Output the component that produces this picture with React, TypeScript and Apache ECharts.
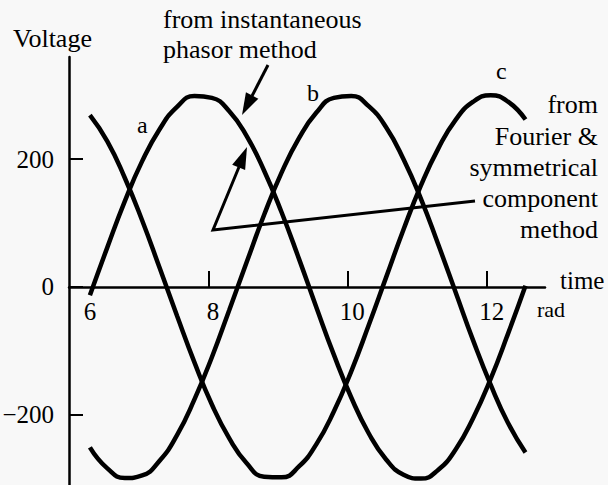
import React, { useEffect, useRef } from "react";
import * as echarts from "echarts";

// time samples (rad)
const tValues = [6.30, 6.55, 6.80, 7.05, 7.30, 7.55, 7.80, 8.05, 8.30, 8.55, 8.80, 9.05, 9.30, 9.55, 9.80, 10.05, 10.30, 10.55, 10.80, 11.05, 11.30, 11.55, 11.80, 12.05, 12.30, 12.55];
// voltages
const phaseA = [-13, 62, 134, 197, 247, 282, 299, 296, 275, 236, 182, 117, 44, -32, -106, -173, -229, -270, -294, -300, -286, -254, -205, -144, -73, 2];
const phaseB = [-251, -284, -299, -295, -272, -232, -176, -110, -36, 39, 113, 179, 233, 273, 296, 299, 283, 250, 200, 138, 66, -9, -84, -153, -213, -259];
const phaseC = [269, 228, 171, 104, 30, -45, -118, -184, -237, -276, -297, -298, -281, -246, -195, -132, -60, 15, 90, 159, 217, 262, 290, 300, 290, 262];

const xTickValues = [8, 10, 12];
const xLabelValues = [6, 8, 10, 12];
const yTickValues = [-200, 0, 200];

const FONT = "Liberation Serif, Times New Roman, serif";

function pairs(ys: number[]) {
  return tValues.map((t, i) => [t, ys[i]]);
}

function arrowHead(tail: number[], tip: number[], len: number, w: number) {
  const dx = tip[0] - tail[0];
  const dy = tip[1] - tail[1];
  const m = Math.hypot(dx, dy);
  const ux = dx / m, uy = dy / m;
  const bx = tip[0] - len * ux, by = tip[1] - len * uy;
  const nx = -uy, ny = ux;
  return [
    [tip[0], tip[1]],
    [bx + (w / 2) * nx, by + (w / 2) * ny],
    [bx - (w / 2) * nx, by - (w / 2) * ny],
  ];
}

function txt(text: string, x: number, y: number, size: number, align: string = "left") {
  return {
    type: "text",
    x,
    y,
    style: {
      text,
      fill: "#000",
      fontFamily: FONT,
      fontSize: size,
      align,
      verticalAlign: "middle",
    },
    z: 10,
  };
}

const GRID_TOP = 57;
const GRID_H = 428;
const Y_MIN = -310;
const Y_MAX = 360;
const ZERO_Y = GRID_TOP + (Y_MAX / (Y_MAX - Y_MIN)) * GRID_H;

export default function App() {
  const ref = useRef<HTMLDivElement>(null);
  useEffect(() => {
    if (!ref.current) return;
    const chart = echarts.init(ref.current, undefined, { renderer: "svg" });
    const a1Tail = [268, 65], a1Tip = [242, 115];
    const a2Tail = [213, 230], a2Tip = [247, 147];
    const lineSeries = (name: string, ys: number[]) => ({
      name,
      type: "line",
      data: pairs(ys),
      smooth: true,
      showSymbol: false,
      lineStyle: { color: "#000", width: 4.5 },
      silent: true,
    });
    chart.setOption({
      animation: false,
      backgroundColor: "#f8f8f8",
      textStyle: { fontFamily: FONT },
      grid: { left: 69, top: GRID_TOP, width: 476, height: GRID_H, outerBoundsMode: "none", containLabel: false },
      xAxis: {
        type: "value",
        min: 6,
        max: 12.83,
        position: "bottom",
        offset: -(GRID_TOP + GRID_H - ZERO_Y),
        axisLine: { onZero: false, lineStyle: { color: "#000", width: 2.5 } },
        axisTick: { show: true, inside: true, length: 16, lineStyle: { color: "#000", width: 2 }, customValues: xTickValues },
        axisLabel: {
          customValues: xLabelValues,
          margin: 12,
          color: "#000",
          fontFamily: FONT,
          fontSize: 25,
          formatter: (v: number) => (v === 6 ? `{s|${v}}` : `{n|${v}}`),
          rich: {
            s: { fontFamily: FONT, fontSize: 25, color: "#000", padding: [0, 0, 0, 42] },
            n: { fontFamily: FONT, fontSize: 25, color: "#000", padding: [0, 0, 0, 9] },
          },
        },
        splitLine: { show: false },
      },
      yAxis: {
        type: "value",
        min: Y_MIN,
        max: Y_MAX,
        axisLine: { show: true, onZero: false, lineStyle: { color: "#000", width: 2.5 } },
        axisTick: { show: true, inside: true, length: 14, lineStyle: { color: "#000", width: 2 }, customValues: yTickValues },
        axisLabel: {
          customValues: yTickValues,
          margin: 15,
          color: "#000",
          fontFamily: FONT,
          fontSize: 25,
          formatter: (v: number) => (v < 0 ? "\u2212" + Math.abs(v) : String(v)),
        },
        splitLine: { show: false },
      },
      series: [lineSeries("a", phaseA), lineSeries("b", phaseB), lineSeries("c", phaseC)],
      graphic: [
        txt("Voltage", 13, 38, 26),
        txt("from instantaneous", 163, 19, 26),
        txt("phasor method", 163, 49, 26),
        txt("from", 598, 104, 26, "right"),
        txt("Fourier &", 598, 136, 26, "right"),
        txt("symmetrical", 598, 167, 26, "right"),
        txt("component", 598, 198, 26, "right"),
        txt("method", 598, 229, 26, "right"),
        txt("a", 137, 125, 24),
        txt("b", 307, 93, 24),
        txt("c", 496, 71, 24),
        txt("time", 560, 280, 25),
        txt("rad", 537, 309, 22),
        {
          type: "line",
          shape: { x1: a1Tail[0], y1: a1Tail[1], x2: 252, y2: 96 },
          style: { stroke: "#000", lineWidth: 3 },
          z: 10,
        },
        {
          type: "polygon",
          shape: { points: arrowHead(a1Tail, a1Tip, 22, 14) },
          style: { fill: "#000" },
          z: 10,
        },
        {
          type: "polyline",
          shape: { points: [[475, 201], [213, 230], [239, 167]] },
          style: { stroke: "#000", lineWidth: 3, fill: null },
          z: 10,
        },
        {
          type: "polygon",
          shape: { points: arrowHead(a2Tail, a2Tip, 22, 14) },
          style: { fill: "#000" },
          z: 10,
        },
      ],
    });
    return () => chart.dispose();
  }, []);
  return <div ref={ref} style={{ position: "fixed", left: 0, top: 0, width: 608, height: 485 }} />;
}
